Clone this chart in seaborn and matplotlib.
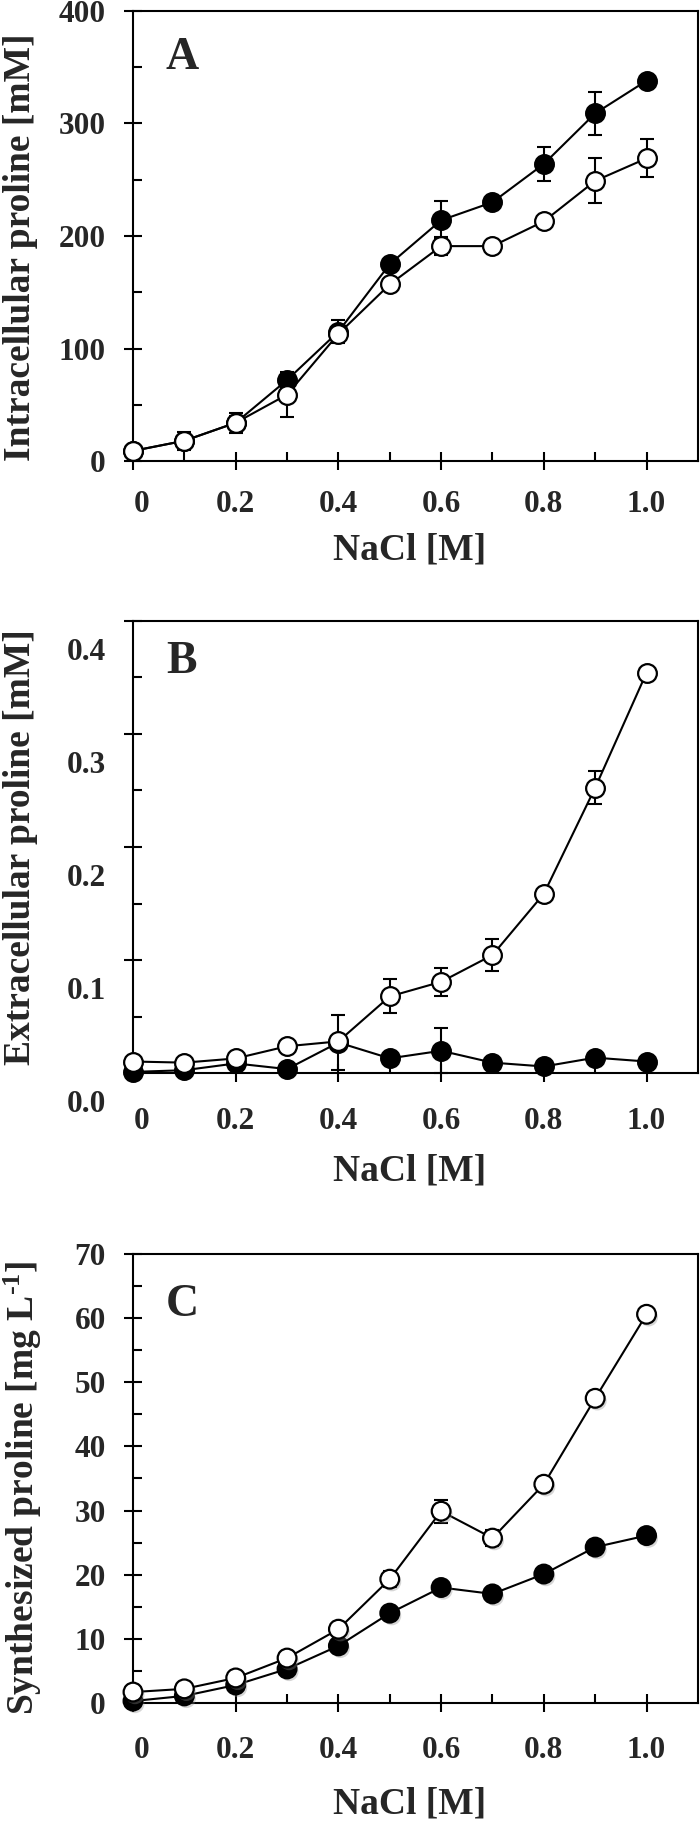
import matplotlib
matplotlib.use("Agg")
import matplotlib.pyplot as plt
import matplotlib.transforms as mtransforms
import matplotlib.patheffects as pe
import seaborn as sns

#### Data #################################

nacl = [0.0, 0.1, 0.2, 0.3, 0.4, 0.5, 0.6, 0.7, 0.8, 0.9, 1.0]
x_ticks = [0.0, 0.2, 0.4, 0.6, 0.8, 1.0]
x_tick_labels = ["0", "0.2", "0.4", "0.6", "0.8", "1.0"]
x_minor = [0.1, 0.3, 0.5, 0.7, 0.9]

# A: intracellular proline [mM]
a_filled = [9, 18, 34, 72, 115, 175, 214, 230, 264, 309, 338]
a_filled_err = [0, 3, 9, 5, 10, 4, 17, 4, 15, 19, 4]
a_open = [9, 18, 34, 59, 113, 157, 191, 191, 213, 249, 269]
a_open_err = [0, 8, 6, 20, 6, 4, 8, 4, 4, 20, 17]
a_ticks = [0, 100, 200, 300, 400]
a_tick_labels = ["0", "100", "200", "300", "400"]
a_minor = [50, 150, 250, 350]

# B: extracellular proline [mM]
b_filled = [0.001, 0.0025, 0.0085, 0.0035, 0.027, 0.013, 0.0197, 0.0092, 0.0058, 0.0136, 0.0102]
b_filled_err = [0, 0, 0.003, 0, 0.024, 0, 0.02, 0, 0, 0.002, 0]
b_open = [0.0102, 0.0092, 0.0129, 0.0237, 0.028, 0.0678, 0.0807, 0.1044, 0.1586, 0.2525, 0.3542]
b_open_err = [0.001, 0.001, 0.002, 0.002, 0, 0.015, 0.0125, 0.0144, 0.003, 0.0144, 0.002]
b_ticks = [0.0, 0.1, 0.2, 0.3, 0.4]
b_tick_labels = ["0.0", "0.1", "0.2", "0.3", "0.4"]
b_minor = [0.05, 0.15, 0.25, 0.35]

# C: synthesized proline [mg L-1]
c_filled = [0.3, 1.1, 2.8, 5.3, 8.9, 14.0, 18.0, 17.0, 20.1, 24.3, 26.1]
c_filled_err = [0.3, 0.3, 0.5, 0.7, 0.6, 0.8, 0.6, 0.6, 0.6, 1.0, 0.6]
c_open = [1.7, 2.2, 3.9, 7.0, 11.5, 19.3, 29.9, 25.7, 34.1, 47.5, 60.6]
c_open_err = [0.5, 0.5, 0.5, 1.0, 0.5, 1.2, 1.8, 1.3, 0.5, 0.5, 0.8]
c_ticks = [0, 10, 20, 30, 40, 50, 60, 70]
c_tick_labels = ["0", "10", "20", "30", "40", "50", "60", "70"]
c_minor = [5, 15, 25, 35, 45, 55, 65]

#### Style #######

sns.set_style("ticks")
plt.rcParams["font.family"] = ["Liberation Serif", "DejaVu Serif"]
plt.rcParams["font.weight"] = "bold"
plt.rcParams["axes.labelweight"] = "bold"
plt.rcParams["mathtext.fontset"] = "custom"
plt.rcParams["mathtext.rm"] = "Liberation Serif:bold"
plt.rcParams["mathtext.default"] = "rm"
plt.rcParams["axes.linewidth"] = 1.5
plt.rcParams["axes.edgecolor"] = "black"

fig = plt.figure(figsize=(7, 18.28), dpi=100)
ax_a = fig.add_axes([0.19, 0.7478, 0.807, 0.2462])
ax_b = fig.add_axes([0.19, 0.4130, 0.807, 0.2473])
ax_c = fig.add_axes([0.19, 0.0684, 0.807, 0.2456])


def draw_series(ax, filled, filled_err, hollow, hollow_err, shadow=False):
    for vals, errs in [(filled, filled_err), (hollow, hollow_err)]:
        ax.errorbar(nacl, vals, yerr=errs, fmt="none", ecolor="black",
                    elinewidth=1.5, capsize=5, capthick=1.5, zorder=2,
                    clip_on=False)
    effects = []
    if shadow:
        effects = [pe.SimplePatchShadow(offset=(1.5, -2), shadow_rgbFace="0.55",
                                        alpha=0.35), pe.Normal()]
    z = 3
    for vals, face in [(filled, "black"), (hollow, "white")]:
        sns.lineplot(x=nacl, y=vals, ax=ax, color="black", linewidth=1.5,
                     clip_on=False, zorder=z)
        sns.scatterplot(x=nacl, y=vals, ax=ax, s=182, color=face,
                        edgecolor="black", linewidth=1.6, clip_on=False,
                        zorder=z + 0.5, path_effects=effects)
        z += 1


def style_panel(ax, yticks, ylabels, yminor, ylabel, letter, letter_y,
                ylabel_x, ylabel_y, xlabel_y, xpad):
    ax.set_xlim(0, 1.1)
    ax.set_ylim(yticks[0], yticks[-1])
    ax.set_xticks(x_ticks, x_tick_labels)
    ax.set_xticks(x_minor, minor=True)
    ax.set_yticks(yticks, ylabels)
    ax.set_yticks(yminor, minor=True)
    for side in ["top", "right", "left", "bottom"]:
        ax.spines[side].set_visible(True)
        ax.spines[side].set_linewidth(1.5)
    ax.tick_params(axis="both", which="major", direction="inout", length=13,
                   width=1.5, labelsize=22.5, color="black")
    ax.tick_params(axis="y", which="major", pad=13)
    ax.tick_params(axis="x", which="major", pad=xpad)
    ax.tick_params(axis="both", which="minor", direction="in", length=6.5,
                   width=1.5, color="black")
    ax.set_ylabel(ylabel, fontsize=27, fontweight="bold")
    ax.yaxis.set_label_coords(ylabel_x, ylabel_y)
    ax.set_xlabel("NaCl [M]", fontsize=27, fontweight="bold")
    ax.xaxis.set_label_coords(0.49, xlabel_y)
    ax.text(0.058, letter_y, letter, transform=ax.transAxes, fontsize=33,
            fontweight="bold", ha="left", va="baseline")
    # the "0" under the origin sits a little right of its tick
    shift = mtransforms.ScaledTranslation(0.09, 0, fig.dpi_scale_trans)
    first = ax.get_xticklabels()[0]
    first.set_transform(first.get_transform() + shift)


draw_series(ax_a, a_filled, a_filled_err, a_open, a_open_err)
style_panel(ax_a, a_ticks, a_tick_labels, a_minor,
            "Intracellular proline [mM]", "A", 0.872, -0.168, 0.475, -0.158, 14.5)

draw_series(ax_b, b_filled, b_filled_err, b_open, b_open_err)
style_panel(ax_b, b_ticks, b_tick_labels, b_minor,
            "Extracellular proline [mM]", "B", 0.886, -0.168, 0.5, -0.177, 18.0)
# panel B's y tick labels sit lower than their ticks
drop = mtransforms.ScaledTranslation(0, -0.28, fig.dpi_scale_trans)
for lab in ax_b.get_yticklabels():
    lab.set_transform(lab.get_transform() + drop)

draw_series(ax_c, c_filled, c_filled_err, c_open, c_open_err, shadow=True)
style_panel(ax_c, c_ticks, c_tick_labels, c_minor,
            "Synthesized proline [mg L$^{\u2010 1}$]", "C", 0.862, -0.158, 0.48,
            -0.185, 17.5)

fig.savefig("out.png", dpi=100)
